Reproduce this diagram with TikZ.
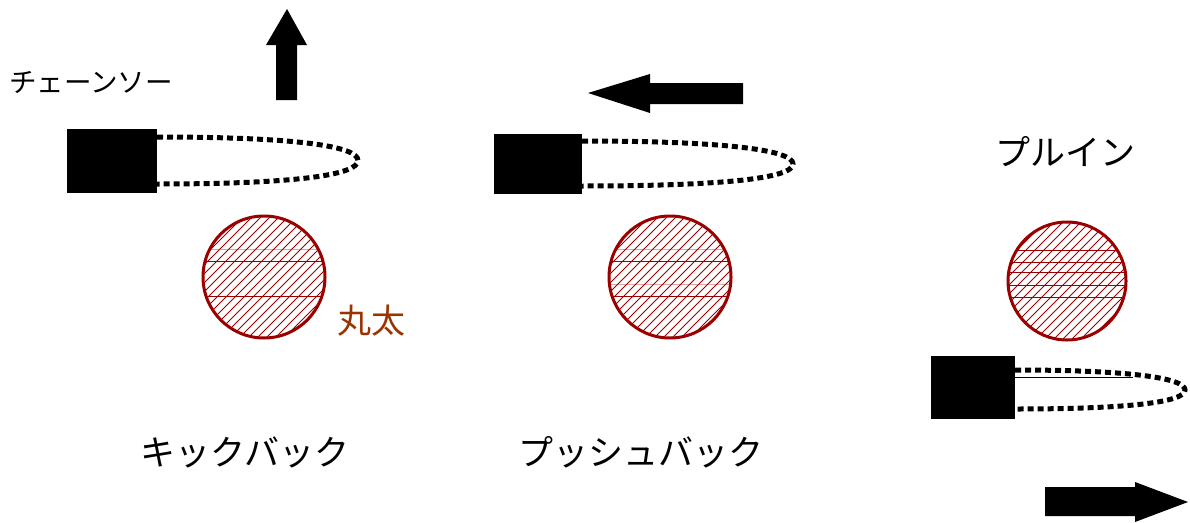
\documentclass[tikz,border=0pt]{standalone}
\usepackage{fontspec}
\setmainfont{Noto Sans CJK JP}
\definecolor{logred}{HTML}{9A0000}
\definecolor{labelbrown}{HTML}{9A3300}
\tikzset{
  sawbody/.style={fill=black, draw=none, inner sep=0pt},
  chain/.style={line width=5pt, dash pattern=on 6pt off 4pt, black},
  logline/.style={draw=logred, line width=3pt},
  hatchline/.style={logred, line width=0.8pt},
  bigarrow/.style={fill=black},
  caption/.style={font=\fontsize{35}{35}\selectfont, inner sep=0pt},
}
% a hatched log cross-section: centre x, centre y, radius
\newcommand{\hatchlog}[3]{%
  \begin{scope}
    \clip (#1,#2) circle[radius=#3];
    \foreach \k in {-14,...,14} {
      \draw[hatchline] (#1+\k*9-#3,#2+#3) -- (#1+\k*9+#3,#2-#3);
    }
  \end{scope}
  \draw[logline] (#1,#2) circle[radius=#3];
}
\begin{document}
\begin{tikzpicture}[x=1pt,y=-1pt]
\useasboundingbox (0,0) rectangle (1190,522);

% ---------- kickback ----------
\fill[bigarrow] (276,100) -- (276,45) -- (266,45) -- (287,9) -- (307,45) -- (297,45) -- (297,100) -- cycle;
\node[font=\fontsize{27.5}{27.5}\selectfont, anchor=west, inner sep=0pt] (sawlabel) at (9,83) {チェーンソー};
\node[sawbody, minimum width=90pt, minimum height=64pt] (saw1) at (112,161) {};
\draw[chain] (157,137)
  .. controls (295,137) and (358,146) .. (358,160.5)
  .. controls (358,175) and (295,184) .. (157,184);
\node[circle, minimum size=124pt, inner sep=0pt] (log1) at (264,277) {};
\hatchlog{264}{277}{61}
\begin{scope}
  \clip (264,277) circle[radius=61];
  \draw[hatchline, opacity=0.35] (190,249) -- (340,249);
  \draw[hatchline] (190,261) -- (340,261);
  \draw[hatchline] (190,296) -- (340,296);
\end{scope}
\node[text=labelbrown, font=\fontsize{34}{34}\selectfont, inner sep=0pt] (logtext) at (371,321) {丸太};
\node[caption] (kick) at (245,452) {キックバック};

% ---------- pushback ----------
\fill[bigarrow] (743,83) -- (650,83) -- (650,74) -- (588,93) -- (650,113) -- (650,104) -- (743,104) -- cycle;
\node[sawbody, minimum width=88pt, minimum height=60pt] (saw2) at (538,164) {};
\draw[chain] (582,141)
  .. controls (725,141) and (793,150) .. (793,164)
  .. controls (793,178) and (725,186) .. (582,186);
\node[circle, minimum size=124pt, inner sep=0pt] (log2) at (670,277) {};
\hatchlog{670}{277}{61}
\begin{scope}
  \clip (670,277) circle[radius=61];
  \draw[hatchline, opacity=0.35] (600,249) -- (740,249);
  \draw[hatchline] (600,261) -- (740,261);
  \draw[hatchline, opacity=0.35] (600,284) -- (740,284);
  \draw[hatchline] (600,296) -- (740,296);
\end{scope}
\node[caption] (push) at (641,452) {プッシュバック};

% ---------- pull-in ----------
\node[caption] (pull) at (1065,152) {プルイン};
\node[circle, minimum size=120pt, inner sep=0pt] (log3) at (1067,281) {};
\hatchlog{1067}{281}{59}
\begin{scope}
  \clip (1067,281) circle[radius=59];
  \foreach \yy in {250,262,272,285,297} {
    \draw[hatchline] (1000,\yy) -- (1135,\yy);
  }
\end{scope}
\node[sawbody, minimum width=84pt, minimum height=63pt] (saw3) at (973,387.5) {};
\draw[black, line width=0.8pt] (saw3.east |- 0,377) -- (1133,377);
\draw[chain] (1015,370)
  .. controls (1130,370) and (1185,378) .. (1185,390)
  .. controls (1185,402) and (1130,409) .. (1015,409);
\fill[bigarrow] (1045,487) -- (1135,487) -- (1135,482) -- (1188,502) -- (1135,522) -- (1135,516) -- (1045,516) -- cycle;
\end{tikzpicture}
\end{document}
